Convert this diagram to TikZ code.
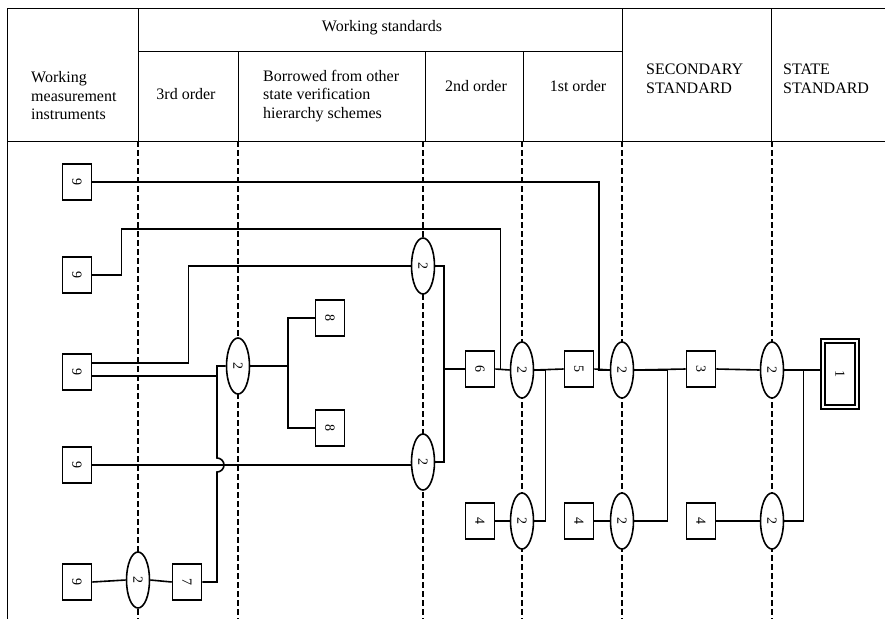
\documentclass[tikz,border=0pt]{standalone}
\usepackage{fontspec}
\usepackage{graphicx}
\setmainfont{Liberation Serif}
\usetikzlibrary{shapes.geometric,calc}
\newcommand\rdig[1]{\rotatebox{-90}{#1}}
\begin{document}
\begin{tikzpicture}[x=1pt,y=-1pt,
  frame/.style={line width=1pt},
  gridline/.style={line width=1.6pt, dash pattern=on 6pt off 3pt},
  conn/.style={line width=1.6pt},
  bx/.style={draw, line width=1.6pt, fill=white, minimum width=29pt, minimum height=36pt, inner sep=0pt, font=\fontsize{14}{14}\selectfont},
  el/.style={draw, ellipse, line width=1.6pt, fill=white, minimum width=23pt, minimum height=56pt, inner sep=0pt, font=\fontsize{14}{14}\selectfont},
  hd/.style={font=\fontsize{16}{18.5}\selectfont, inner sep=0pt}
]
\useasboundingbox (0,0) rectangle (885,619);
% header frame
\draw[frame] (7,8) -- (885,8);
\draw[frame] (7,8) -- (7,619);
\draw[frame] (138,51) -- (622,51);
\draw[frame] (7,141) -- (885,141);
\draw[frame] (138,8) -- (138,141);
\draw[frame] (238,51) -- (238,141);
\draw[frame] (425,51) -- (425,141);
\draw[frame] (523,51) -- (523,141);
\draw[frame] (622,8) -- (622,141);
\draw[frame] (771,8) -- (771,141);
% header texts
\node[hd] (hws) at (382,28) {Working standards};
\node[hd, anchor=west, align=left] (hwmi) at (31,96) {Working\\measurement\\instruments};
\node[hd] (h3) at (186,94) {3rd order};
\node[hd, anchor=west, align=left] (hb) at (263,96) {Borrowed from other\\state verification\\hierarchy schemes};
\node[hd] (h2) at (476,86) {2nd order};
\node[hd] (h1) at (578,86) {1st order};
\node[hd, anchor=west, align=left] (hs) at (646,79) {SECONDARY\\STANDARD};
\node[hd, anchor=west, align=left] (hst) at (783,79) {STATE\\STANDARD};
% dashed column lines
\foreach \x in {138,238,423,522,622,772} \draw[gridline] (\x,141) -- (\x,619);
% nodes
\node[bx] (w1) at (77,182) {\rdig{9}};
\node[bx] (w2) at (77,275) {\rdig{9}};
\node[bx] (w3) at (77,372) {\rdig{9}};
\node[bx] (w4) at (77,465) {\rdig{9}};
\node[bx] (w5) at (77,582) {\rdig{9}};
\node[bx] (b7) at (187,582) {\rdig{7}};
\node[bx] (b8a) at (330,318) {\rdig{8}};
\node[bx] (b8b) at (330,428) {\rdig{8}};
\node[bx] (b6) at (480,369) {\rdig{6}};
\node[bx] (b5) at (579,369) {\rdig{5}};
\node[bx] (b3) at (701,369) {\rdig{3}};
\node[bx] (b4a) at (480,521) {\rdig{4}};
\node[bx] (b4b) at (579,521) {\rdig{4}};
\node[bx] (b4c) at (701,521) {\rdig{4}};
\node[draw, double, line width=1.4pt, double distance=2.5pt, fill=white, minimum width=34pt, minimum height=66pt, inner sep=0pt, font=\fontsize{14}{14}\selectfont] (b1) at (840,374) {\rdig{1}};
\node[el] (e1) at (238,366) {\rdig{2}};
\node[el] (e2) at (423,266) {\rdig{2}};
\node[el] (e3) at (423,462) {\rdig{2}};
\node[el] (e4) at (522,370) {\rdig{2}};
\node[el] (e5) at (622,370) {\rdig{2}};
\node[el] (e6) at (772,370) {\rdig{2}};
\node[el] (e7) at (522,521) {\rdig{2}};
\node[el] (e8) at (622,521) {\rdig{2}};
\node[el] (e9) at (772,521) {\rdig{2}};
\node[el] (e10) at (138,580) {\rdig{2}};
% helper coordinates
\coordinate (v) at (217,0);
\coordinate (k) at (444,0);
\coordinate (m) at (288,0);
% connectors
\draw[conn] (w1.east) -| ([xshift=-11pt]e5.west) -- (e5.west);
\draw[conn] (w2.east) -- ++(29,0) -- ++(0,-46) -| ([xshift=5pt]b6.east);
\draw[conn] ([yshift=9pt]w3.east) -- ++(96,0) |- (e2.west);
\draw[conn] ([yshift=-4pt]w3.east) -- ([yshift=-4pt]w3.east -| v);
\draw[conn] (b7.east) -- (b7.east -| v) -- ($(v |- w4.east)+(0,7)$) arc[start angle=-90, end angle=90, radius=7pt] -- (v |- e1.west) -- (e1.west);
\draw[conn] (w4.east) -- (w4.east -| e3.west);
\draw[conn] (e10.west) -- (w5.east);
\draw[conn] (e10.east) -- (b7.west);
\draw[conn] (e1.east) -- (m |- e1.east);
\draw[conn] (b8a.west) -- (m |- b8a.west) -- (m |- b8b.west) -- (b8b.west);
\draw[conn] (e2.east) -| (k |- e3.east) -- (e3.east);
\draw[conn] (k |- b6.west) -- (b6.west);
\draw[conn] (b6.east) -- (e4.west);
\draw[conn] (e4.east) -- (b5.west);
\draw[conn] (b5.east) -- (e5.west);
\draw[conn] (e5.east) -- (b3.west);
\draw[conn] (b3.east) -- (e6.west);
\draw[conn] (e6.east) -- (e6.east -| b1.west);
\draw[conn] (b4a.east) -- (e7.west);
\draw[conn] (b4b.east) -- (e8.west);
\draw[conn] (b4c.east) -- (e9.west);
\draw[conn] (e7.east) -- ++(11,0) |- (e4.east);
\draw[conn] (e8.east) -- ++(33,0) |- (e5.east);
\draw[conn] (e9.east) -- ++(19,0) |- (e6.east);
\end{tikzpicture}
\end{document}
